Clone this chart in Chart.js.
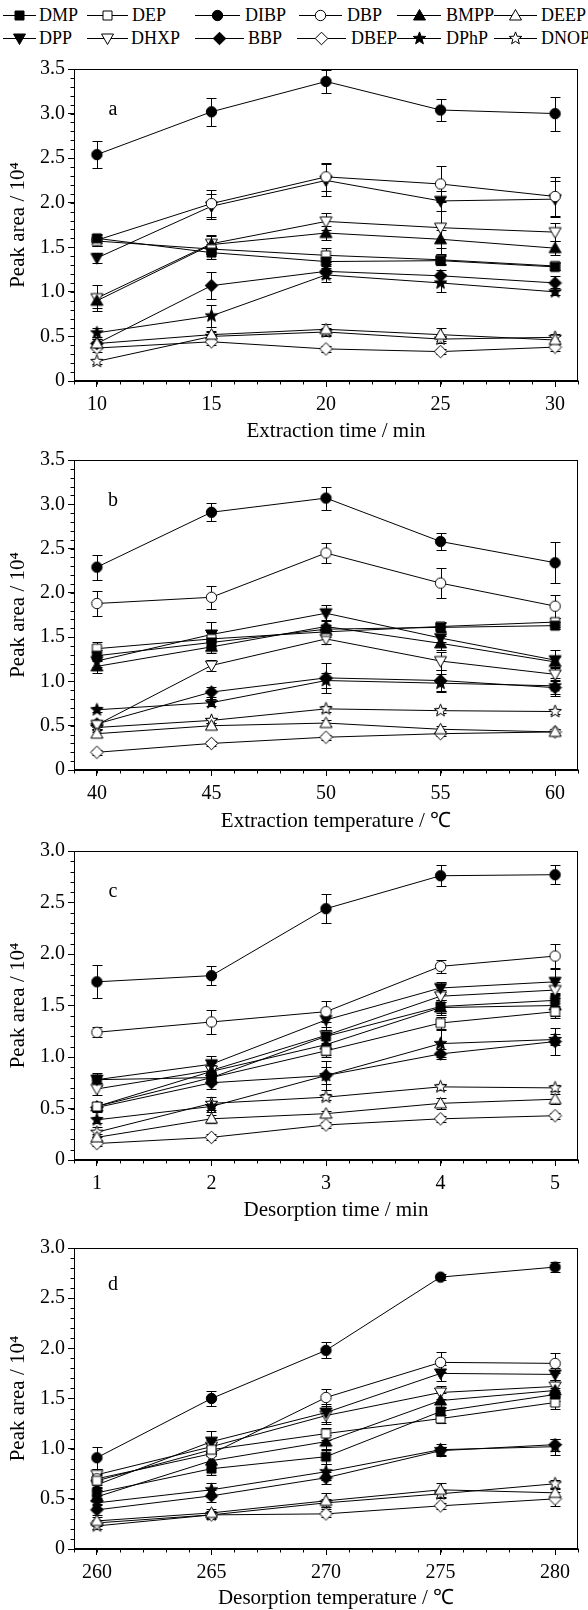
<!DOCTYPE html>
<html><head><meta charset="utf-8">
<script src="https://cdn.jsdelivr.net/npm/chart.js@4.4.1/dist/chart.umd.min.js"></script>
<style>
html,body{margin:0;padding:0;background:#fff;}
body{width:588px;height:1610px;position:relative;overflow:hidden;font-family:'Liberation Serif','Times New Roman',serif;}
canvas.panel{position:absolute;left:0;}
.lgt{position:absolute;font-size:18px;line-height:20px;color:#000;white-space:nowrap;}
canvas.sym{position:absolute;}
</style></head><body>
<div id="legend"></div>
<canvas id="c0" class="panel"></canvas>
<canvas id="c1" class="panel"></canvas>
<canvas id="c2" class="panel"></canvas>
<canvas id="c3" class="panel"></canvas>
<script>
// ---------------- DATA ----------------
const seriesNames = ['DMP','DEP','DIBP','DBP','BMPP','DEEP','DPP','DHXP','BBP','DBEP','DPhP','DNOP'];

const xA = [10, 15, 20, 25, 30];
const xB = [40, 45, 50, 55, 60];
const xC = [1, 2, 3, 4, 5];
const xD = [260, 265, 270, 275, 280];

const yTicks35 = [0, 0.5, 1.0, 1.5, 2.0, 2.5, 3.0, 3.5];
const yTicks30 = [0, 0.5, 1.0, 1.5, 2.0, 2.5, 3.0];

// rows follow seriesNames order
const valsA = [
  [1.60, 1.44, 1.34, 1.35, 1.28], // DMP
  [1.57, 1.48, 1.41, 1.36, 1.29], // DEP
  [2.54, 3.02, 3.36, 3.04, 3.00], // DIBP
  [1.58, 1.99, 2.29, 2.21, 2.07], // DBP
  [0.90, 1.53, 1.66, 1.59, 1.49], // BMPP
  [0.42, 0.52, 0.58, 0.52, 0.46], // DEEP
  [1.38, 1.96, 2.25, 2.02, 2.04], // DPP
  [0.93, 1.54, 1.79, 1.72, 1.67], // DHXP
  [0.42, 1.07, 1.23, 1.18, 1.10], // BBP
  [0.37, 0.44, 0.36, 0.33, 0.38], // DBEP
  [0.54, 0.73, 1.19, 1.10, 1.00], // DPhP
  [0.22, 0.50, 0.55, 0.47, 0.49]  // DNOP
];
const errA = [
  [0.05,0.07,0.05,0.05,0.04],
  [0.05,0.06,0.08,0.05,0.04],
  [0.15,0.16,0.13,0.12,0.19],
  [0.06,0.15,0.16,0.20,0.22],
  [0.08,0.10,0.08,0.10,0.08],
  [0.05,0.04,0.06,0.07,0.04],
  [0.06,0.14,0.18,0.11,0.20],
  [0.15,0.10,0.10,0.30,0.10],
  [0.05,0.15,0.08,0.07,0.08],
  [0.04,0.04,0.03,0.03,0.04],
  [0.05,0.12,0.08,0.10,0.04],
  [0.03,0.05,0.05,0.04,0.04]
];
const valsB = [
  [1.29, 1.44, 1.59, 1.61, 1.63],
  [1.37, 1.48, 1.56, 1.62, 1.67],
  [2.29, 2.91, 3.07, 2.58, 2.34],
  [1.88, 1.95, 2.45, 2.11, 1.85],
  [1.17, 1.39, 1.62, 1.43, 1.22],
  [0.41, 0.50, 0.53, 0.46, 0.43],
  [1.23, 1.53, 1.77, 1.49, 1.24],
  [0.51, 1.18, 1.48, 1.23, 1.08],
  [0.52, 0.88, 1.04, 1.01, 0.93],
  [0.20, 0.30, 0.37, 0.41, 0.43],
  [0.68, 0.76, 1.01, 0.98, 0.95],
  [0.48, 0.56, 0.69, 0.67, 0.66]
];
const errB = [
  [0.06,0.06,0.05,0.05,0.04],
  [0.07,0.08,0.06,0.05,0.05],
  [0.14,0.10,0.13,0.10,0.23],
  [0.14,0.13,0.11,0.17,0.13],
  [0.07,0.07,0.07,0.08,0.06],
  [0.04,0.03,0.03,0.04,0.03],
  [0.07,0.14,0.09,0.05,0.12],
  [0.05,0.06,0.06,0.10,0.07],
  [0.04,0.06,0.17,0.12,0.09],
  [0.03,0.03,0.03,0.03,0.03],
  [0.03,0.04,0.08,0.10,0.09],
  [0.02,0.03,0.03,0.03,0.03]
];
const valsC = [
  [0.78, 0.80, 1.20, 1.49, 1.55],
  [0.52, 0.80, 1.06, 1.33, 1.44],
  [1.73, 1.79, 2.44, 2.76, 2.77],
  [1.24, 1.34, 1.44, 1.88, 1.98],
  [0.52, 0.86, 1.12, 1.48, 1.50],
  [0.22, 0.40, 0.45, 0.55, 0.59],
  [0.78, 0.93, 1.36, 1.67, 1.73],
  [0.69, 0.87, 1.21, 1.59, 1.65],
  [0.51, 0.75, 0.82, 1.03, 1.15],
  [0.16, 0.22, 0.34, 0.40, 0.43],
  [0.39, 0.52, 0.82, 1.13, 1.17],
  [0.27, 0.55, 0.61, 0.71, 0.70]
];
const errC = [
  [0.06,0.05,0.06,0.06,0.07],
  [0.04,0.06,0.06,0.06,0.06],
  [0.16,0.09,0.14,0.10,0.09],
  [0.05,0.12,0.10,0.06,0.12],
  [0.04,0.06,0.10,0.07,0.10],
  [0.03,0.04,0.03,0.05,0.05],
  [0.05,0.08,0.10,0.06,0.12],
  [0.06,0.07,0.08,0.06,0.08],
  [0.04,0.06,0.14,0.05,0.13],
  [0.02,0.03,0.03,0.03,0.03],
  [0.03,0.05,0.08,0.13,0.05],
  [0.05,0.06,0.03,0.03,0.03]
];
const valsD = [
  [0.56, 0.80, 0.92, 1.37, 1.54],
  [0.68, 0.99, 1.15, 1.30, 1.46],
  [0.91, 1.50, 1.98, 2.71, 2.81],
  [0.70, 0.95, 1.51, 1.86, 1.85],
  [0.52, 0.88, 1.07, 1.48, 1.58],
  [0.28, 0.36, 0.48, 0.59, 0.56],
  [0.64, 1.07, 1.36, 1.75, 1.74],
  [0.74, 1.02, 1.33, 1.56, 1.62],
  [0.39, 0.53, 0.71, 0.98, 1.04],
  [0.26, 0.34, 0.35, 0.43, 0.50],
  [0.46, 0.59, 0.77, 0.99, 1.02],
  [0.23, 0.34, 0.46, 0.55, 0.65]
];
const errD = [
  [0.06,0.06,0.07,0.05,0.06],
  [0.07,0.06,0.06,0.04,0.06],
  [0.11,0.07,0.08,0.03,0.05],
  [0.06,0.08,0.08,0.10,0.10],
  [0.07,0.07,0.07,0.07,0.07],
  [0.04,0.04,0.08,0.07,0.04],
  [0.10,0.11,0.09,0.08,0.06],
  [0.06,0.07,0.08,0.06,0.06],
  [0.05,0.06,0.06,0.04,0.06],
  [0.03,0.03,0.03,0.03,0.07],
  [0.05,0.07,0.08,0.06,0.08],
  [0.03,0.04,0.04,0.04,0.04]
];

const xTitles = ['Extraction time / min', 'Extraction temperature / \u2103', 'Desorption time / min', 'Desorption temperature / \u2103'];
const panelLetters = ['a', 'b', 'c', 'd'];
const yTitle = 'Peak area / 10\u2074';

// ---------------- STYLE / LAYOUT ----------------
const markerShapes = ['square','square','circle','circle','up','up','down','down','diamond','diamond','star','star'];
const markerFilled = [true,false,true,false,true,false,true,false,true,false,true,false];
const FONT = "'Liberation Serif','Times New Roman',serif";

const panels = [
  {x:xA, vals:valsA, err:errA, yt:yTicks35, xmin:9,   xmax:31,  minor:1,   ymax:3.5, canvasTop:54,   plotTop:69,   plotBottom:381,  canvasBottom:444},
  {x:xB, vals:valsB, err:errB, yt:yTicks35, xmin:39,  xmax:61,  minor:1,   ymax:3.5, canvasTop:445,  plotTop:458,  plotBottom:770,  canvasBottom:834},
  {x:xC, vals:valsC, err:errC, yt:yTicks30, xmin:0.8, xmax:5.2, minor:0.2, ymax:3.0, canvasTop:836,  plotTop:849,  plotBottom:1160, canvasBottom:1223},
  {x:xD, vals:valsD, err:errD, yt:yTicks30, xmin:259, xmax:281, minor:1,   ymax:3.0, canvasTop:1225, plotTop:1248, plotBottom:1549, canvasBottom:1611}
];
const PLOT_LEFT = 74, PLOT_RIGHT = 578, W = 588;
const X_TITLE_SHIFT = 10;

function makeMarker(shape, filled) {
  const c = document.createElement('canvas');
  c.width = 15; c.height = 15;
  const g = c.getContext('2d');
  g.translate(7.5, 7.5);
  g.lineWidth = 1; g.strokeStyle = '#000'; g.fillStyle = filled ? '#000' : '#fff';
  g.beginPath();
  if (shape === 'square') { g.rect(-4.5, -4.5, 9, 9); }
  else if (shape === 'circle') { g.arc(0, 0, 5.2, 0, Math.PI * 2); }
  else if (shape === 'up') { g.moveTo(0, -6); g.lineTo(6, 4.5); g.lineTo(-6, 4.5); g.closePath(); }
  else if (shape === 'down') { g.moveTo(0, 6); g.lineTo(6, -4.5); g.lineTo(-6, -4.5); g.closePath(); }
  else if (shape === 'diamond') { g.moveTo(0, -6.3); g.lineTo(6.3, 0); g.lineTo(0, 6.3); g.lineTo(-6.3, 0); g.closePath(); }
  else if (shape === 'star') {
    for (let k = 0; k < 10; k++) {
      const r = k % 2 === 0 ? 6.6 : 2.8;
      const a = -Math.PI / 2 + k * Math.PI / 5;
      const px = r * Math.cos(a), py = r * Math.sin(a);
      if (k === 0) g.moveTo(px, py); else g.lineTo(px, py);
    }
    g.closePath();
  }
  g.fill(); g.stroke();
  return c;
}
const markers = seriesNames.map((n, i) => makeMarker(markerShapes[i], markerFilled[i]));

// ---------------- LEGEND ----------------
const legendRowY = [15, 38];
const legendLines = [
  [[3,36],[87,128],[195,240],[299,342],[397,441],[494,537]],
  [[3,36],[87,128],[195,244],[297,346],[397,441],[494,537]]
];
const legendTextX = [[39,132,245,347,446,541],[39,131,248,351,446,541]];
const legendDiv = document.getElementById('legend');
seriesNames.forEach((name, i) => {
  const row = i < 6 ? 0 : 1, col = i % 6;
  const [l0, l1] = legendLines[row][col];
  const cy = legendRowY[row];
  const sc = document.createElement('canvas');
  sc.className = 'sym';
  sc.width = l1 - l0; sc.height = 16;
  sc.style.left = l0 + 'px'; sc.style.top = (cy - 8) + 'px';
  const g = sc.getContext('2d');
  g.strokeStyle = '#000'; g.lineWidth = 1;
  g.beginPath(); g.moveTo(0, 8.5); g.lineTo(sc.width, 8.5); g.stroke();
  g.drawImage(markers[i], Math.round(sc.width / 2 - 7.5), 1);
  legendDiv.appendChild(sc);
  const t = document.createElement('div');
  t.className = 'lgt';
  t.textContent = name;
  t.style.left = legendTextX[row][col] + 'px';
  t.style.top = (cy - 10) + 'px';
  legendDiv.appendChild(t);
});

// ---------------- PLUGIN ----------------
const decor = {
  id: 'decor',
  beforeDatasetsDraw(chart) {
    const {ctx} = chart; const xs = chart.scales.x, ys = chart.scales.y;
    ctx.save(); ctx.strokeStyle = '#000'; ctx.lineWidth = 1;
    chart.data.datasets.forEach(ds => {
      ds.data.forEach((p, i) => {
        const e = ds.errors[i];
        const x = Math.round(xs.getPixelForValue(p.x)) + 0.5;
        const yT = Math.round(ys.getPixelForValue(p.y + e)) + 0.5;
        const yB = Math.round(ys.getPixelForValue(p.y - e)) + 0.5;
        ctx.beginPath();
        ctx.moveTo(x, yT); ctx.lineTo(x, yB);
        ctx.moveTo(x - 5, yT); ctx.lineTo(x + 5, yT);
        ctx.moveTo(x - 5, yB); ctx.lineTo(x + 5, yB);
        ctx.stroke();
      });
    });
    ctx.restore();
  },
  afterDraw(chart, args, opts) {
    const {ctx, chartArea: a} = chart; const xs = chart.scales.x, ys = chart.scales.y;
    ctx.save(); ctx.strokeStyle = '#000'; ctx.lineWidth = 1;
    const L = Math.round(a.left) + 0.5, R = Math.round(a.right) - 0.5, T = Math.round(a.top) + 0.5, B = Math.round(a.bottom) - 0.5;
    ctx.strokeRect(L, T, R - L, B - T);
    ctx.beginPath();
    const st = opts.minor;
    for (let v = xs.min; v <= xs.max + 1e-9; v += st) {
      const px = Math.round(xs.getPixelForValue(v)) + 0.5;
      ctx.moveTo(px, B); ctx.lineTo(px, B + 4);
    }
    for (let v = 0; v <= ys.max + 1e-9; v += 0.1) {
      const py = Math.round(ys.getPixelForValue(v)) + 0.5;
      ctx.moveTo(L, py); ctx.lineTo(L - 4, py);
    }
    ctx.stroke();
    ctx.fillStyle = '#000';
    ctx.textAlign = 'center'; ctx.textBaseline = 'middle';
    ctx.font = '20px ' + FONT;
    ctx.fillText(opts.letter, a.left + opts.lx, a.top + opts.ly);
    ctx.font = '21px ' + FONT;
    ctx.fillText(opts.xtitle, (a.left + a.right) / 2 + X_TITLE_SHIFT, chart.height - 12.6);
    ctx.restore();
  }
};

Chart.defaults.font.family = FONT;
Chart.defaults.color = '#000';

panels.forEach((p, pi) => {
  const cv = document.getElementById('c' + pi);
  const H = p.canvasBottom - p.canvasTop;
  cv.width = W; cv.height = H;
  cv.style.top = p.canvasTop + 'px';
  cv.style.width = W + 'px'; cv.style.height = H + 'px';
  const padTop = p.plotTop - p.canvasTop;
  const xH = p.canvasBottom - p.plotBottom;
  const datasets = seriesNames.map((name, si) => ({
    label: name,
    data: p.x.map((xv, k) => ({x: xv, y: p.vals[si][k]})),
    errors: p.err[si],
    borderColor: '#000', borderWidth: 1, tension: 0,
    pointStyle: markers[si], pointRadius: 5, pointHoverRadius: 5,
    backgroundColor: '#000'
  }));
  new Chart(cv, {
    type: 'line',
    data: {datasets},
    options: {
      responsive: false, animation: false, devicePixelRatio: 1,
      events: [],
      layout: {padding: {top: padTop, left: 0, right: W - PLOT_RIGHT, bottom: 0}},
      plugins: {
        legend: {display: false}, tooltip: {enabled: false},
        decor: {minor: p.minor, letter: panelLetters[pi], xtitle: xTitles[pi], lx: 39, ly: pi === 3 ? 37 : 41}
      },
      scales: {
        x: {
          type: 'linear', min: p.xmin, max: p.xmax,
          afterBuildTicks: s => { s.ticks = p.x.map(v => ({value: v})); },
          afterFit: s => { s.height = xH; },
          ticks: {font: {size: 20}, color: '#000', padding: 6, maxRotation: 0, autoSkip: false, callback: v => String(v)},
          grid: {drawOnChartArea: false, drawTicks: true, tickLength: 6, color: '#000'},
          border: {display: true, color: '#000', width: 1},
          title: {display: false}
        },
        y: {
          type: 'linear', min: 0, max: p.ymax,
          afterBuildTicks: s => { s.ticks = p.yt.map(v => ({value: v})); },
          afterFit: s => { s.width = PLOT_LEFT; },
          ticks: {font: {size: 20}, color: '#000', padding: 3, autoSkip: false, callback: v => v === 0 ? '0' : v.toFixed(1)},
          grid: {drawOnChartArea: false, drawTicks: true, tickLength: 6, color: '#000'},
          border: {display: true, color: '#000', width: 1},
          title: {display: true, text: yTitle, font: {size: 21}, color: '#000', padding: {top: 6, bottom: 0}}
        }
      }
    },
    plugins: [decor]
  });
});
</script>
</body></html>
